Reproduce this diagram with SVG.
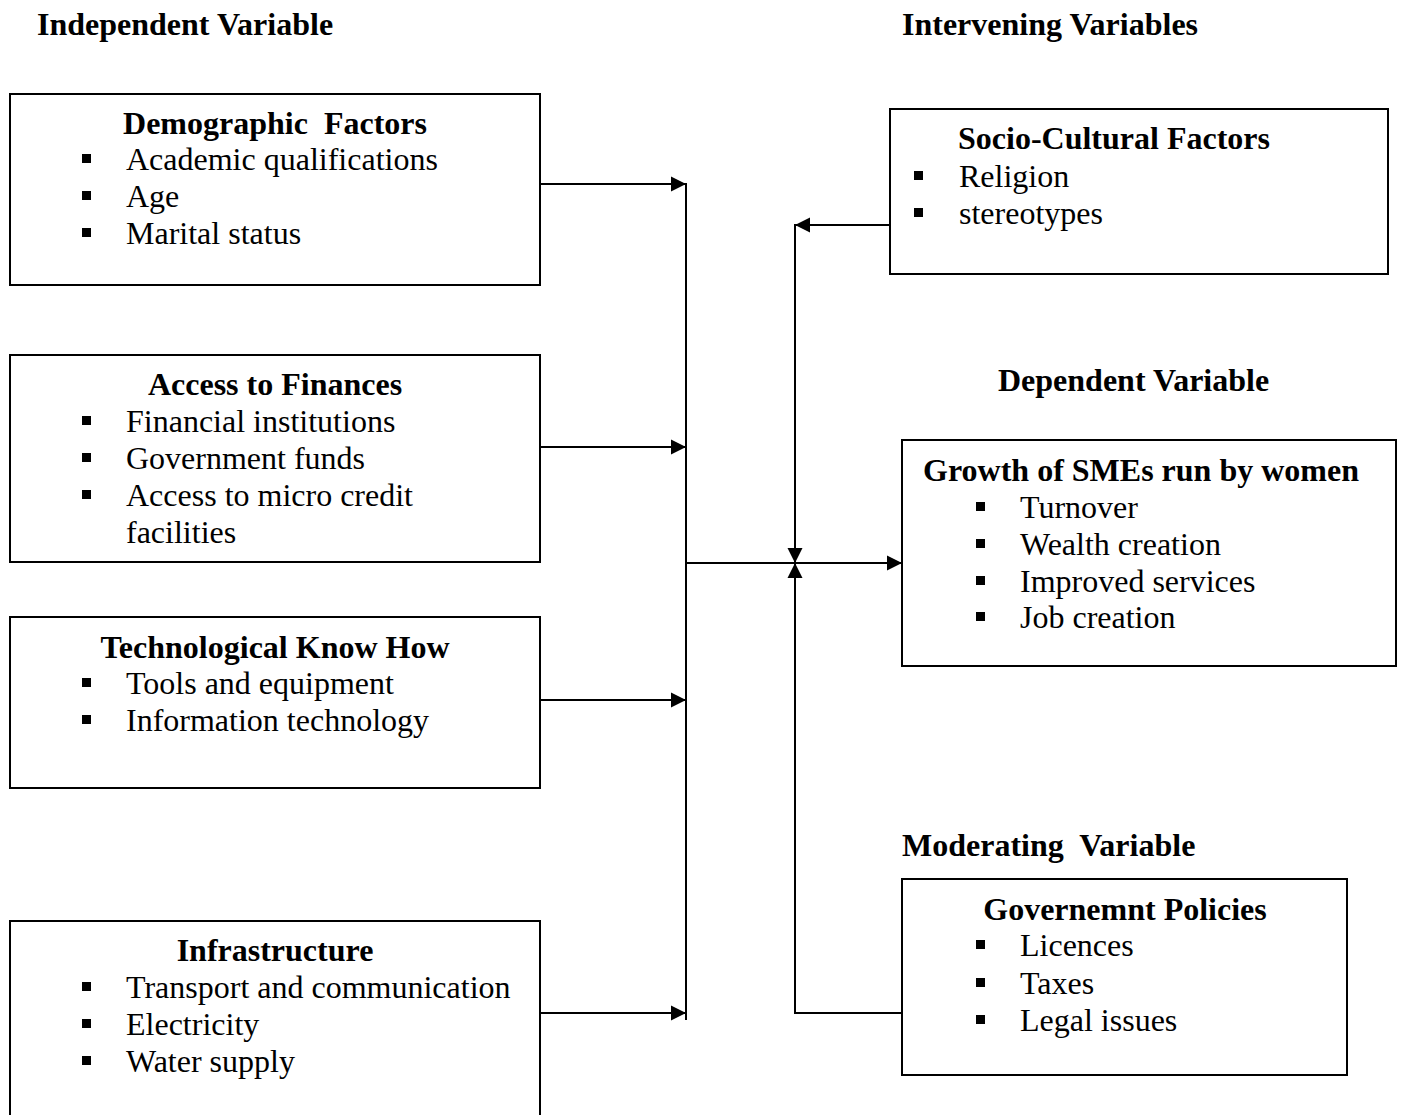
<svg xmlns="http://www.w3.org/2000/svg" width="1402" height="1115" viewBox="0 0 1402 1115">
<style>
.box{fill:#fff;stroke:#000;stroke-width:2}
.t{font-family:"Liberation Serif","Times New Roman",serif;font-size:32px;fill:#000}
.h{font-weight:bold}
.c{text-anchor:middle}
.b{fill:#000}
.ln{fill:none;stroke:#000;stroke-width:2}
</style>
<defs>
<marker id="ah" markerUnits="userSpaceOnUse" markerWidth="16" markerHeight="16" viewBox="0 0 16 16" refX="15" refY="8" orient="auto">
<path d="M0,0.5 L15,8 L0,15.5 Z" fill="#000"/>
</marker>
</defs>
<rect width="1402" height="1115" fill="#fff"/>
<g id="titles">
<text class="t h" x="37" y="35">Independent Variable</text>
<text class="t h" x="902" y="35">Intervening Variables</text>
<text class="t h" x="998" y="391">Dependent Variable</text>
<text class="t h" x="902" y="856" xml:space="preserve">Moderating  Variable</text>
</g>
<g id="demographic">
<rect class="box" x="10" y="94" width="530" height="191"/>
<text class="t h c" x="275" y="134" xml:space="preserve">Demographic  Factors</text>
<rect class="b" x="82" y="154" width="9" height="9"/><text class="t" x="126" y="170">Academic qualifications</text>
<rect class="b" x="82" y="191" width="9" height="9"/><text class="t" x="126" y="207">Age</text>
<rect class="b" x="82" y="228" width="9" height="9"/><text class="t" x="126" y="244">Marital status</text>
</g>
<g id="finances">
<rect class="box" x="10" y="355" width="530" height="207"/>
<text class="t h c" x="275" y="395">Access to Finances</text>
<rect class="b" x="82" y="416" width="9" height="9"/><text class="t" x="126" y="432">Financial institutions</text>
<rect class="b" x="82" y="453" width="9" height="9"/><text class="t" x="126" y="469">Government funds</text>
<rect class="b" x="82" y="490" width="9" height="9"/><text class="t" x="126" y="506">Access to micro credit</text>
<text class="t" x="126" y="543">facilities</text>
</g>
<g id="technology">
<rect class="box" x="10" y="617" width="530" height="171"/>
<text class="t h c" x="275" y="658">Technological Know How</text>
<rect class="b" x="82" y="678" width="9" height="9"/><text class="t" x="126" y="694">Tools and equipment</text>
<rect class="b" x="82" y="715" width="9" height="9"/><text class="t" x="126" y="731">Information technology</text>
</g>
<g id="infrastructure">
<rect class="box" x="10" y="921" width="530" height="210"/>
<text class="t h c" x="275" y="961">Infrastructure</text>
<rect class="b" x="82" y="982" width="9" height="9"/><text class="t" x="126" y="998">Transport and communication</text>
<rect class="b" x="82" y="1019" width="9" height="9"/><text class="t" x="126" y="1035">Electricity</text>
<rect class="b" x="82" y="1056" width="9" height="9"/><text class="t" x="126" y="1072">Water supply</text>
</g>
<g id="sociocultural">
<rect class="box" x="890" y="109" width="498" height="165"/>
<text class="t h c" x="1114" y="149">Socio-Cultural Factors</text>
<rect class="b" x="914" y="171" width="9" height="9"/><text class="t" x="959" y="187">Religion</text>
<rect class="b" x="914" y="208" width="9" height="9"/><text class="t" x="959" y="224">stereotypes</text>
</g>
<g id="growth">
<rect class="box" x="902" y="440" width="494" height="226"/>
<text class="t h c" x="1141" y="481">Growth of SMEs run by women</text>
<rect class="b" x="976" y="502" width="9" height="9"/><text class="t" x="1020" y="518">Turnover</text>
<rect class="b" x="976" y="539" width="9" height="9"/><text class="t" x="1020" y="555">Wealth creation</text>
<rect class="b" x="976" y="576" width="9" height="9"/><text class="t" x="1020" y="592">Improved services</text>
<rect class="b" x="976" y="612" width="9" height="9"/><text class="t" x="1020" y="628">Job creation</text>
</g>
<g id="policies">
<rect class="box" x="902" y="879" width="445" height="196"/>
<text class="t h c" x="1125" y="920">Governemnt Policies</text>
<rect class="b" x="976" y="940" width="9" height="9"/><text class="t" x="1020" y="956">Licences</text>
<rect class="b" x="976" y="978" width="9" height="9"/><text class="t" x="1020" y="994">Taxes</text>
<rect class="b" x="976" y="1015" width="9" height="9"/><text class="t" x="1020" y="1031">Legal issues</text>
</g>
<g id="connectors">
<line class="ln" x1="540" y1="184" x2="686" y2="184" marker-end="url(#ah)"/>
<line class="ln" x1="540" y1="447" x2="686" y2="447" marker-end="url(#ah)"/>
<line class="ln" x1="540" y1="700" x2="686" y2="700" marker-end="url(#ah)"/>
<line class="ln" x1="540" y1="1013" x2="686" y2="1013" marker-end="url(#ah)"/>
<line class="ln" x1="686" y1="183" x2="686" y2="1020"/>
<line class="ln" x1="686" y1="563" x2="902" y2="563" marker-end="url(#ah)"/>
<line class="ln" x1="890" y1="225" x2="795" y2="225" marker-end="url(#ah)"/>
<line class="ln" x1="795" y1="224" x2="795" y2="563" marker-end="url(#ah)"/>
<polyline class="ln" points="902,1013 795,1013 795,563" marker-end="url(#ah)"/>
</g>
</svg>
